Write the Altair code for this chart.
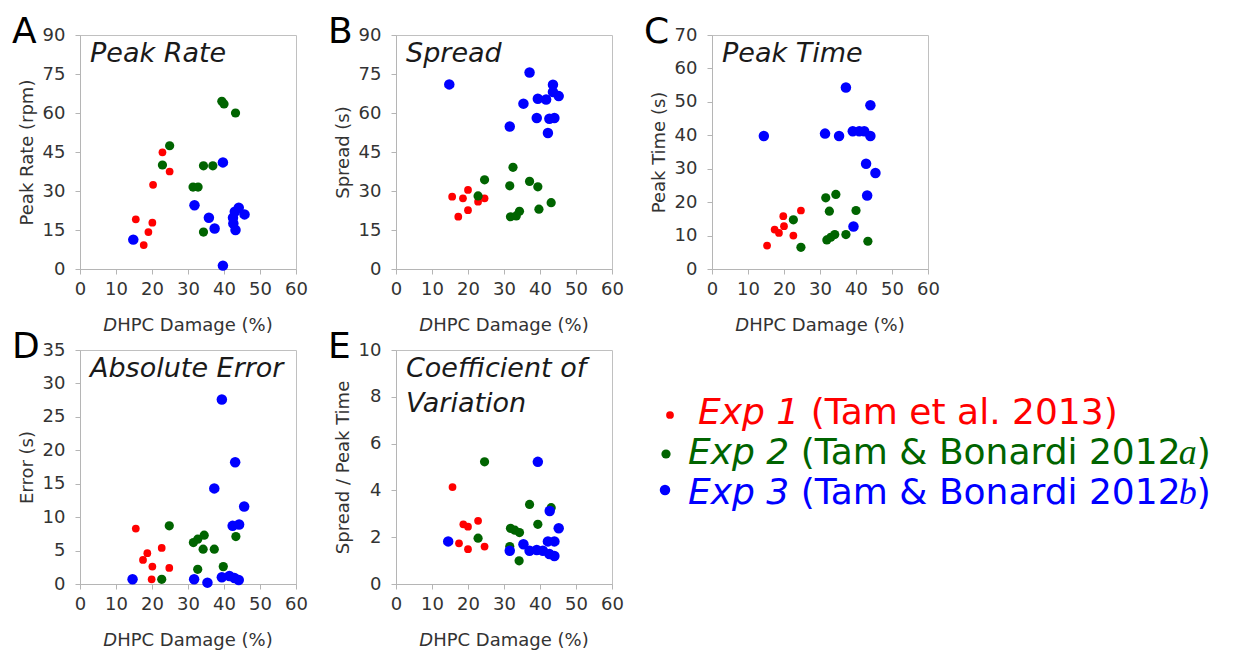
import altair as alt
import pandas as pd

FONT = "DejaVu Sans"
GROUPS = ["Exp 1", "Exp 2", "Exp 3"]
COLORS = ["#ff0000", "#006400", "#0000ff"]
SIZES = [60, 110, 170]

X_TICKS = [0, 10, 20, 30, 40, 50, 60]

# ---------------- Panel A: Peak Rate ----------------
A_exp1_x = [15.5, 17.7, 19.0, 20.1, 20.3, 22.9, 24.9]
A_exp1_y = [19.1, 9.2, 14.2, 17.8, 32.4, 44.9, 37.5]
A_exp2_x = [22.9, 24.9, 31.4, 32.8, 34.3, 36.9, 34.3, 39.4, 40.0, 43.2]
A_exp2_y = [40.0, 47.4, 31.5, 31.5, 39.7, 39.7, 14.2, 64.5, 63.5, 60.0]
A_exp3_x = [14.8, 31.8, 35.8, 37.4, 39.7, 39.7, 42.5, 43.2, 42.6, 44.1, 45.7, 43.0]
A_exp3_y = [11.3, 24.5, 19.7, 15.6, 41.0, 1.3, 19.7, 15.0, 17.5, 23.6, 21.0, 22.0]

# ---------------- Panel B: Spread ----------------
B_exp1_x = [15.6, 17.3, 18.6, 20.0, 20.0, 22.8, 24.6]
B_exp1_y = [27.8, 20.1, 27.2, 30.4, 22.6, 25.9, 27.2]
B_exp2_x = [22.8, 24.6, 31.6, 32.5, 31.8, 33.4, 34.3, 37.1, 39.4, 39.7, 43.1]
B_exp2_y = [28.1, 34.3, 32.0, 39.1, 20.1, 20.4, 22.2, 33.7, 31.6, 23.0, 25.5]
B_exp3_x = [14.8, 31.6, 35.4, 37.1, 39.4, 39.1, 42.2, 42.6, 44.0, 43.6, 43.6, 45.2, 41.7]
B_exp3_y = [71.0, 54.8, 63.6, 75.6, 65.5, 58.1, 52.3, 57.8, 58.1, 70.9, 68.1, 66.5, 65.2]

# ---------------- Panel C: Peak Time ----------------
C_exp1_x = [15.3, 17.4, 18.6, 19.8, 20.0, 22.6, 24.7]
C_exp1_y = [7.0, 11.8, 10.8, 15.8, 12.8, 10.0, 17.5]
C_exp2_x = [22.6, 24.7, 31.6, 34.4, 32.6, 31.9, 34.1, 37.2, 40.0, 43.3, 33.0]
C_exp2_y = [14.7, 6.5, 21.3, 22.3, 17.3, 8.7, 10.3, 10.3, 17.5, 8.3, 9.5]
C_exp3_x = [14.4, 31.4, 35.3, 37.2, 39.1, 40.9, 42.3, 44.0, 44.0, 42.8, 45.4, 43.1, 39.3]
C_exp3_y = [39.8, 40.5, 39.8, 54.3, 41.2, 41.2, 41.2, 39.8, 49.0, 31.5, 28.7, 22.0, 12.7]

# ---------------- Panel D: Absolute Error ----------------
D_exp1_x = [15.5, 17.5, 18.7, 20.1, 19.9, 22.7, 24.8]
D_exp1_y = [8.3, 3.6, 4.6, 2.6, 0.7, 5.4, 2.4]
D_exp2_x = [22.7, 24.8, 31.5, 32.7, 34.5, 34.2, 37.3, 32.7, 39.8, 43.3]
D_exp2_y = [0.7, 8.7, 6.2, 6.7, 7.3, 5.2, 5.2, 2.2, 2.6, 7.1]
D_exp3_x = [14.6, 31.7, 35.4, 37.3, 39.4, 39.4, 41.5, 43.1, 42.4, 44.2, 45.6, 44.1, 42.9]
D_exp3_y = [0.7, 0.7, 0.2, 14.3, 27.6, 1.0, 1.2, 18.2, 8.7, 8.9, 11.6, 0.6, 0.9]

# ---------------- Panel E: Coefficient of Variation ----------------
E_exp1_x = [15.7, 18.7, 20.0, 22.8, 17.5, 20.0, 24.6]
E_exp1_y = [4.14, 2.55, 2.45, 2.70, 1.74, 1.49, 1.60]
E_exp2_x = [24.6, 22.8, 31.8, 33.0, 34.3, 37.1, 39.4, 34.2, 31.6, 43.1]
E_exp2_y = [5.22, 1.96, 2.38, 2.30, 2.20, 3.40, 2.55, 0.99, 1.60, 3.26]
E_exp3_x = [14.5, 31.6, 35.4, 37.1, 39.4, 39.1, 42.7, 42.2, 44.0, 45.2, 44.0, 42.6, 40.8]
E_exp3_y = [1.82, 1.42, 1.70, 1.42, 5.22, 1.45, 3.12, 1.82, 1.82, 2.38, 1.20, 1.28, 1.42]

# Legend texts
LEG_ITALIC = ["Exp 1", "Exp 2", "Exp 3"]
LEG_REGULAR = ["(Tam et al. 2013)", "(Tam & Bonardi 2012", "(Tam & Bonardi 2012"]
LEG_SUFFIX = ["", "a", "b"]
LEG_CLOSE = ["", ")", ")"]

# ---------------- layout helpers ----------------
W, H = 216, 234
ADV = {' ': 0.318, '(': 0.390, ')': 0.390, 'T': 0.611, 'a': 0.613, 'm': 0.974,
       'e': 0.615, 't': 0.392, 'l': 0.278, '.': 0.318, '&': 0.779, 'B': 0.686,
       'o': 0.612, 'n': 0.634, 'r': 0.411, 'd': 0.635, 'i': 0.278, 'E': 0.632,
       'x': 0.592, 'p': 0.635, 'D': 0.770, 'H': 0.752, 'P': 0.603, 'C': 0.698,
       'g': 0.635, '%': 0.950}


def tw(s, size):
    return sum(ADV.get(c, 0.636) for c in s) * size


color_scale = alt.Scale(domain=GROUPS, range=COLORS)
size_scale = alt.Scale(domain=GROUPS, range=SIZES)


def panel(letter, title_lines, ytitle, ymax, ystep, series):
    rows = []
    for g, (xs, ys) in zip(GROUPS, series):
        for xv, yv in zip(xs, ys):
            rows.append({"group": g, "x": xv, "y": yv})
    df = pd.DataFrame(rows)
    pts = alt.Chart(df).mark_circle(opacity=1).encode(
        x=alt.X("x:Q", scale=alt.Scale(domain=[0, 60], nice=False),
                axis=alt.Axis(values=X_TICKS, title=None, labelFlush=False)),
        y=alt.Y("y:Q", scale=alt.Scale(domain=[0, ymax], nice=False),
                axis=alt.Axis(values=list(range(0, ymax + 1, ystep)), title=ytitle,
                              labelFlush=False)),
        color=alt.Color("group:N", scale=color_scale, legend=None),
        size=alt.Size("group:O", scale=size_scale, legend=None),
    )
    let = alt.Chart(pd.DataFrame({"t": [letter]})).mark_text(
        align="left", baseline="alphabetic", fontSize=36, font=FONT, color="black"
    ).encode(text="t:N", x=alt.value(-68), y=alt.value(8))
    tdf = pd.DataFrame({"t": title_lines,
                        "ly": [27 + 35 * i for i in range(len(title_lines))]})
    ttl = alt.Chart(tdf).mark_text(
        align="left", baseline="alphabetic", fontSize=27, font=FONT,
        fontStyle="italic", color="#1a1a1a"
    ).encode(text="t:N", x=alt.value(10), y=alt.Y("ly:Q", scale=None, axis=None))
    # x-axis title with italic "D"
    xs = 18
    total = tw("DHPC Damage (%)", xs)
    x0 = W / 2 - total / 2
    xt1 = alt.Chart(pd.DataFrame({"t": ["D"]})).mark_text(
        align="left", baseline="alphabetic", fontSize=xs, font=FONT,
        fontStyle="italic", color="#333"
    ).encode(text="t:N", x=alt.value(x0), y=alt.value(H + 62))
    xt2 = alt.Chart(pd.DataFrame({"t": ["HPC Damage (%)"]})).mark_text(
        align="left", baseline="alphabetic", fontSize=xs, font=FONT, color="#333"
    ).encode(text="t:N", x=alt.value(x0 + tw("D", xs)), y=alt.value(H + 62))
    return alt.layer(pts, ttl, let, xt1, xt2).properties(width=W, height=H)


pA = panel("A", ["Peak Rate"], "Peak Rate (rpm)", 90, 15,
           [(A_exp1_x, A_exp1_y), (A_exp2_x, A_exp2_y), (A_exp3_x, A_exp3_y)])
pB = panel("B", ["Spread"], "Spread (s)", 90, 15,
           [(B_exp1_x, B_exp1_y), (B_exp2_x, B_exp2_y), (B_exp3_x, B_exp3_y)])
pC = panel("C", ["Peak Time"], "Peak Time (s)", 70, 10,
           [(C_exp1_x, C_exp1_y), (C_exp2_x, C_exp2_y), (C_exp3_x, C_exp3_y)])
pD = panel("D", ["Absolute Error"], "Error (s)", 35, 5,
           [(D_exp1_x, D_exp1_y), (D_exp2_x, D_exp2_y), (D_exp3_x, D_exp3_y)])
pE = panel("E", ["Coefficient of", "Variation"], "Spread / Peak Time", 10, 2,
           [(E_exp1_x, E_exp1_y), (E_exp2_x, E_exp2_y), (E_exp3_x, E_exp3_y)])

# ---------------- legend panel ----------------
LS = 36
leg_start = [-14, -24, -24]
leg_base = [74, 114, 154]
bul_x = [-42, -46, -47]
bul_y = [65, 104, 140]
ldf = pd.DataFrame({
    "group": GROUPS,
    "ital": LEG_ITALIC,
    "reg": LEG_REGULAR,
    "suf": LEG_SUFFIX,
    "close": LEG_CLOSE,
    "tx": leg_start,
    "ty": leg_base,
    "bx": bul_x,
    "by": bul_y,
})
ldf["rx"] = ldf["tx"] + [tw(s + " ", LS) for s in LEG_ITALIC]
ldf["sx"] = ldf["rx"] + [0.978 * tw(s, LS) for s in LEG_REGULAR]
ldf["cx"] = ldf["sx"] + [0.5 * LS if s else 0 for s in LEG_SUFFIX]

lbase = alt.Chart(ldf)
lcol = alt.Color("group:N", scale=color_scale, legend=None)
bullets = lbase.mark_circle(opacity=1).encode(
    x=alt.X("bx:Q", scale=None, axis=None), y=alt.Y("by:Q", scale=None, axis=None),
    color=lcol, size=alt.Size("group:O", scale=size_scale, legend=None))
t_it = lbase.mark_text(align="left", baseline="alphabetic", fontSize=LS, font=FONT,
                       fontStyle="italic").encode(
    x=alt.X("tx:Q", scale=None, axis=None), y=alt.Y("ty:Q", scale=None, axis=None),
    text="ital:N", color=lcol)
t_reg = lbase.mark_text(align="left", baseline="alphabetic", fontSize=LS, font=FONT).encode(
    x=alt.X("rx:Q", scale=None, axis=None), y=alt.Y("ty:Q", scale=None, axis=None),
    text="reg:N", color=lcol)
t_suf = lbase.mark_text(align="left", baseline="alphabetic", fontSize=LS,
                        font="Liberation Serif", fontStyle="italic").encode(
    x=alt.X("sx:Q", scale=None, axis=None), y=alt.Y("ty:Q", scale=None, axis=None),
    text="suf:N", color=lcol)
t_close = lbase.mark_text(align="left", baseline="alphabetic", fontSize=LS, font=FONT).encode(
    x=alt.X("cx:Q", scale=None, axis=None), y=alt.Y("ty:Q", scale=None, axis=None),
    text="close:N", color=lcol)
legend = alt.layer(bullets, t_it, t_reg, t_suf, t_close).properties(
    width=W, height=H, view=alt.ViewConfig(stroke="transparent"))

chart = alt.concat(
    pA, pB, pC, pD, pE, legend, columns=3,
    spacing=alt.RowColnumber(row=81, column=100), bounds="flush"
).configure_axis(
    labelFont=FONT, labelFontSize=18, labelColor="#333",
    titleFont=FONT, titleFontSize=18, titleFontWeight="normal", titleColor="#333",
    domainColor="#b5b5b5", tickColor="#b5b5b5", tickSize=5, grid=False,
).configure_axisY(labelPadding=10, titlePadding=6).configure_axisX(
    labelPadding=6
).configure_view(stroke="#c0c0c0").properties(
    padding={"left": 3, "top": 5, "right": 5, "bottom": 5})

chart.save("out.html", embed_options={"renderer": "svg", "actions": False})
